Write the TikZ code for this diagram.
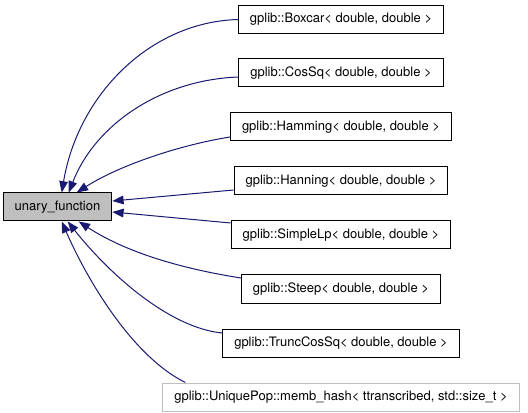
\documentclass[tikz,border=0pt]{standalone}
\usepackage{fontspec}
\setmainfont{TeX Gyre Heros}
\usetikzlibrary{arrows.meta, calc}
\definecolor{edgeblue}{HTML}{191970}
\definecolor{basegray}{HTML}{BFBFBF}

\begin{document}
\begin{tikzpicture}[
  x=0.75pt, y=-0.75pt,
  cls/.style={draw=black, line width=0.75pt, inner xsep=8.6pt, inner ysep=0pt,
    minimum height=21pt, font=\fontsize{9.75}{11}\selectfont},
  base/.style={cls, fill=basegray},
  extcls/.style={cls, draw=basegray},
  inherit/.style={draw=edgeblue, line width=0.75pt, -{Triangle[length=8.5pt, width=6.5pt]}, edgeblue}
]
  \useasboundingbox (0,0) rectangle (528,413);

  % base class
  \node[base] (unary) at (57.5,207) {unary\_function};

  % derived classes
  \node[cls] (boxcar)   at (341,19.5) {gplib::Boxcar< double, double >};
  \node[cls] (cossq)    at (341,73)   {gplib::CosSq< double, double >};
  \node[cls] (hamming)  at (341,127)  {gplib::Hamming< double, double >};
  \node[cls] (hanning)  at (341,181)  {gplib::Hanning< double, double >};
  \node[cls] (simplelp) at (341,235)  {gplib::SimpleLp< double, double >};
  \node[cls] (steep)    at (341,289)  {gplib::Steep< double, double >};
  \node[cls] (trunc)    at (341,343)  {gplib::TruncCosSq< double, double >};
  \node[extcls] (unique) at (341,397) {gplib::UniquePop::memb\_hash< ttranscribed, std::size\_t >};

  % inheritance edges
  \draw[inherit] (boxcar.west) .. controls (150,22) and (78,95) .. ($(unary.north west)+(59,0)$);
  \draw[inherit] ($(cossq.west)+(0,4)$) .. controls (160,80) and (95,125) .. ($(unary.north west)+(66,0)$);
  \draw[inherit] ($(hamming.west)+(0,10)$) .. controls (180,145) and (120,165) .. ($(unary.north west)+(74,0)$);
  \draw[inherit] ($(hanning.west)+(0,9)$) -- ($(unary.east)+(0,-6)$);
  \draw[inherit] ($(simplelp.west)+(0,-12)$) -- ($(unary.east)+(0,5)$);
  \draw[inherit] ($(steep.west)+(0,-11)$) .. controls (190,270) and (130,255) .. ($(unary.south west)+(76,0)$);
  \draw[inherit] ($(trunc.west)+(0,-10)$) .. controls (170,328) and (110,275) .. ($(unary.south west)+(65,0)$);
  \draw[inherit] ($(unique.north west)+(23,0)$) .. controls (130,355) and (85,275) .. ($(unary.south west)+(59,0)$);
\end{tikzpicture}
\end{document}
